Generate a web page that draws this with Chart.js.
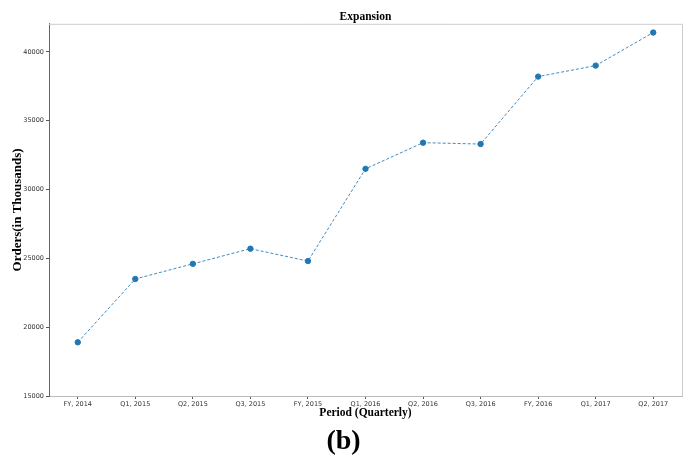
<!DOCTYPE html>
<html>
<head>
<meta charset="utf-8">
<script src="https://cdn.jsdelivr.net/npm/chart.js@4.4.1/dist/chart.umd.min.js"></script>
<style>
  html, body { margin: 0; padding: 0; background: #fff; }
  #wrap { position: relative; width: 687px; height: 455px; }
  #tag {
    position: absolute; left: 0; width: 687px; top: 424px;
    text-align: center; font: bold 28px "Liberation Serif", "DejaVu Serif", serif; color: #000;
  }
</style>
</head>
<body>
<div id="wrap">
  <canvas id="myChart" width="687" height="455"></canvas>
  <div id="tag">(b)</div>
</div>
<script>
const periods = ["FY, 2014", "Q1, 2015", "Q2, 2015", "Q3, 2015", "FY, 2015", "Q1, 2016",
                 "Q2, 2016", "Q3, 2016", "FY, 2016", "Q1, 2017", "Q2, 2017"];
const orders = [18900, 23500, 24600, 25700, 24800, 31500, 33400, 33300, 38200, 39000, 41400];
const yTicks = [15000, 20000, 25000, 30000, 35000, 40000];
const yMin = 15000;
const yMax = 42035;

const blue = "#1f77b4";

// matplotlib-like frame around the plot
const framePlugin = {
    id: "frame",
    afterDraw(chart) {
        const { ctx, chartArea: a } = chart;
        ctx.save();
        ctx.strokeStyle = "#cccccc";
        ctx.lineWidth = 1;
        ctx.beginPath();
        ctx.moveTo(a.left, a.top + 0.5);
        ctx.lineTo(a.right + 0.5, a.top + 0.5);
        ctx.lineTo(a.right + 0.5, a.bottom);
        ctx.stroke();
        ctx.restore();
    }
};

const ctx = document.getElementById("myChart").getContext("2d");
new Chart(ctx, {
    type: "line",
    data: {
        labels: periods,
        datasets: [{
            data: orders,
            borderColor: "rgba(31, 119, 180, 0.85)",
            borderWidth: 1,
            borderDash: [3, 2],
            pointBackgroundColor: blue,
            pointBorderColor: blue,
            pointRadius: 2.7,
            tension: 0,
            fill: false
        }]
    },
    options: {
        responsive: false,
        animation: false,
        layout: { padding: { left: 0, right: 4, top: 0, bottom: 35 } },
        plugins: {
            legend: { display: false },
            tooltip: { enabled: false },
            title: {
                display: true,
                text: "Expansion",
                fullSize: false,
                color: "#000",
                font: { family: "'Liberation Serif', serif", size: 11.5, weight: "bold", lineHeight: 1.2 },
                padding: { top: 10, bottom: 0 }
            }
        },
        scales: {
            x: {
                type: "category",
                offset: true,
                grid: { display: true, drawOnChartArea: false, drawTicks: true, tickLength: 3, color: "#555" },
                border: { color: "#bbbbbb" },
                ticks: {
                    color: "#333",
                    font: { family: "'DejaVu Sans', sans-serif", size: 6.5 },
                    padding: 1,
                    maxRotation: 0,
                    autoSkip: false
                },
                title: {
                    display: true,
                    text: "Period (Quarterly)",
                    color: "#000",
                    font: { family: "'Liberation Serif', serif", size: 11.5, weight: "bold", lineHeight: 1.2 },
                    padding: { top: 0, bottom: 0 }
                },
                afterFit(scale) { scale.height = 24; }
            },
            y: {
                min: yMin,
                max: yMax,
                grid: { display: true, drawOnChartArea: false, drawTicks: true, tickLength: 3, color: "#555" },
                border: { color: "#666" },
                ticks: {
                    color: "#333",
                    font: { family: "'DejaVu Sans', sans-serif", size: 6.5 },
                    padding: 2,
                    callback: v => String(v)
                },
                afterBuildTicks(scale) {
                    scale.ticks = yTicks.map(v => ({ value: v }));
                },
                title: {
                    display: true,
                    text: "Orders(in Thousands)",
                    color: "#000",
                    font: { family: "'Liberation Serif', serif", size: 13, weight: "bold", lineHeight: 1.2 },
                    padding: { top: 10, bottom: 0 }
                },
                afterFit(scale) { scale.width = 49; }
            }
        }
    },
    plugins: [framePlugin]
});
</script>
</body>
</html>
